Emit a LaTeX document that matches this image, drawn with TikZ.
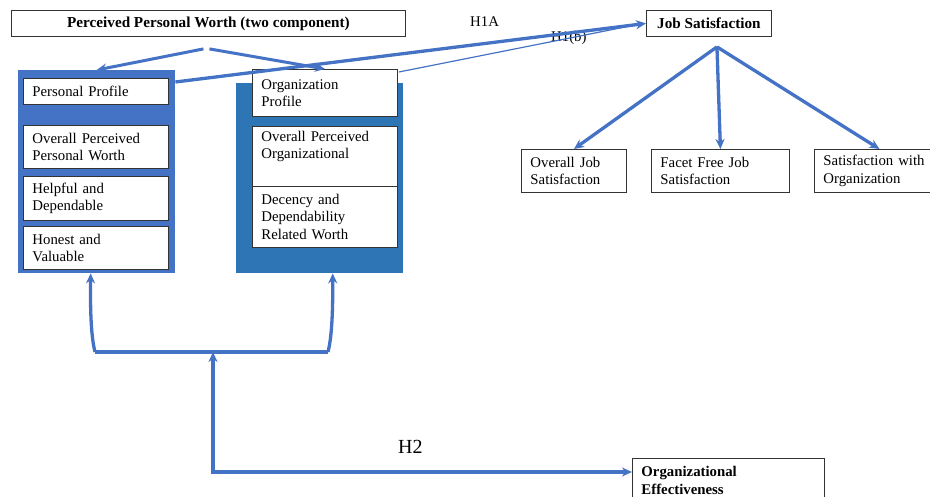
\documentclass[tikz,border=0pt]{standalone}
\usepackage{fontspec}
\setmainfont{Liberation Serif}
\usetikzlibrary{arrows.meta,calc}
\definecolor{lblue}{HTML}{4472C4}
\definecolor{rblue}{HTML}{2E75B6}
\begin{document}
\begin{tikzpicture}[x=1pt,y=1pt,
  every node/.style={font=\fontsize{14.8}{17.5}\selectfont},
  ibox/.style={draw=black!80,line width=0.9pt,fill=white,align=left,inner xsep=9pt,inner ysep=0pt,anchor=north west},
  tbox/.style={draw=black!80,line width=0.9pt,fill=white,align=center,inner sep=0pt,anchor=north west,font=\fontsize{15.2}{17.5}\selectfont\bfseries},
  panel/.style={anchor=north west,inner sep=0pt},
  arr/.style={draw=lblue,line width=3.3pt,-{Stealth[length=10pt,width=9pt]}},
  thinline/.style={draw=lblue,line width=1.2pt},
  lbl/.style={inner sep=0pt,anchor=west}
]
\useasboundingbox (0,0) rectangle (930,-497);

% top boxes
\node[tbox,minimum width=394,minimum height=26] (t) at (11,-10) {Perceived Personal Worth (two component)};
\node[tbox,minimum width=125,minimum height=26] (js) at (646,-10) {Job Satisfaction};

% panels
\node[panel,fill=lblue,minimum width=157,minimum height=203] (lp) at (18,-70) {};
\node[panel,fill=rblue,minimum width=167,minimum height=190] (rp) at (236,-83) {};

% left inner boxes
\node[ibox,text width=127,minimum height=26] (pp) at (23,-78) {Personal Profile};
\node[ibox,text width=127,minimum height=43] (opw) at (23,-125) {Overall Perceived\\Personal Worth};
\node[ibox,text width=127,minimum height=44] (hd) at (23,-176) {Helpful and\\Dependable};
\node[ibox,text width=127,minimum height=43] (hv) at (23,-226) {Honest and\\Valuable};

% right inner boxes
\node[ibox,text width=127,minimum height=47] (op) at (252,-69) {Organization\\Profile};
\node[ibox,text width=127,minimum height=60] (opo) at (252,-126) {Overall Perceived\\Organizational\\\strut};
\node[ibox,text width=127,minimum height=61] (dd) at (252,-186) {Decency and\\Dependability\\Related Worth};

% job satisfaction facets
\node[ibox,text width=87,minimum height=43] (oj) at (521,-149) {Overall Job\\Satisfaction};
\node[ibox,text width=120,minimum height=43] (ff) at (651,-149) {Facet Free Job\\Satisfaction};
\node[ibox,text width=112,minimum height=43] (so) at (814,-149) {Satisfaction with\\Organization};

% organizational effectiveness
\node[ibox,text width=174,minimum height=44,font=\fontsize{14.8}{17.5}\selectfont\bfseries] (oe) at (632,-458) {Organizational\\Effectiveness};

% labels
\node[lbl] (h1a) at (470,-22) {H1A};
\node[lbl] (h1b) at (551,-38) {H1(b)};
\node[lbl,font=\fontsize{20}{22}\selectfont] (h2) at (398,-447) {H2};

% top split arrows
\draw[arr,line width=3pt] ($(t.south)+(-5,-12)$) -- (lp.north);
\draw[arr,line width=3pt] ($(t.south)+(1,-12)$) -- (op.north);

% H1A and H1(b)
\draw[thinline] ($(op.north east)+(1,-3)$) -- ($(js.west)+(-8,-1)$);
\draw[arr] ($(lp.north east)+(0,-12)$) -- (js.west);

% job satisfaction tree
\coordinate (apex) at ($(js.south)+(8,-10)$);
\draw[arr] (apex) -- (oj.north);
\draw[arr] (apex) -- (ff.north);
\draw[arr] (apex) -- (so.north);

% bottom H2 structure
\coordinate (bl) at (95,-352);
\coordinate (br) at (328,-352);
\coordinate (jc) at (213,-352);
\coordinate (hc) at (213,-472);
\draw[draw=lblue,line width=3.3pt] (bl) -- (br);
\draw[arr] (bl) .. controls (92,-340) and (90,-320) .. ($(lp.south)+(-6,0)$);
\draw[arr] (br) .. controls (331,-340) and (333,-320) .. ($(rp.south)+(13,0)$);
\draw[arr,{Stealth[length=10pt,width=9pt]}-{Stealth[length=10pt,width=9pt]}] (jc) -- (hc) -- (hc -| oe.west);
\end{tikzpicture}
\end{document}
